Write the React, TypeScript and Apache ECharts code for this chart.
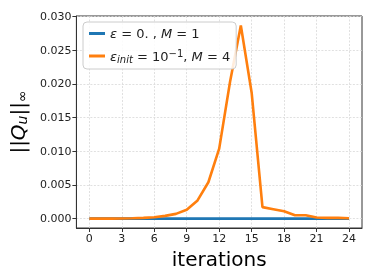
import React, { useEffect, useRef } from "react";
import * as echarts from "echarts";

const iterations = Array.from({ length: 25 }, (_, i) => i);
const seriesBlue = [0, 0, 0, 0, 0, 0, 0, 0, 0, 0, 0, 0, 0, 0, 0, 0, 0, 0, 0, 0, 0, 0, 0, 0, 0];
const seriesOrange = [
  0, 0, 0, 0.00002, 0.00005, 0.0001, 0.0002, 0.0004, 0.0007, 0.0013, 0.0027, 0.0054, 0.0104,
  0.0203, 0.0287, 0.0187, 0.0017, 0.0014, 0.0011, 0.0005, 0.0005, 0.00015, 0.0001, 0.0001, 0.00005,
];
const xTicks = [0, 3, 6, 9, 12, 15, 18, 21, 24];
const yTicks = [0, 0.005, 0.01, 0.015, 0.02, 0.025, 0.03];

const FONT = "DejaVu Sans";

export default function App() {
  const ref = useRef<HTMLDivElement>(null);
  useEffect(() => {
    if (!ref.current) return;
    const chart = echarts.init(ref.current, null, { renderer: "svg" });
    const gridLine = { show: true, lineStyle: { color: "#d8d8d8", width: 0.8, type: [2, 1.5] as any } };
    chart.setOption({
      animation: false,
      textStyle: { fontFamily: FONT },
      grid: { left: 76, right: 12, top: 16, bottom: 52, show: true, borderColor: "#333", borderWidth: 1, containLabel: false },
      legend: {
        left: 83,
        top: 22,
        orient: "vertical",
        itemWidth: 16,
        itemHeight: 3,
        itemGap: 8,
        icon: "rect",
        backgroundColor: "rgba(255,255,255,0.85)",
        borderColor: "#cccccc",
        borderWidth: 1,
        borderRadius: 4,
        padding: [5, 6, 5, 6],
        data: ["s1", "s2"],
        formatter: (name: string) =>
          name === "s1"
            ? "{i|ε} = 0. , {i|M} = 1"
            : "{i|ε}{sub|init} = 10{sup|−1}, {i|M} = 4",
        textStyle: {
          fontFamily: FONT,
          fontSize: 13,
          color: "#222",
          rich: {
            i: { fontFamily: FONT, fontSize: 13, fontStyle: "italic", color: "#222" },
            sub: { fontFamily: FONT, fontSize: 10, fontStyle: "italic", color: "#222", verticalAlign: "bottom", padding: [6, 0, 0, 0] },
            sup: { fontFamily: FONT, fontSize: 10, color: "#222", verticalAlign: "top", padding: [0, 0, 6, 0] },
          },
        },
      },
      xAxis: {
        type: "value",
        min: -1.2,
        max: 25.2,
        name: "iterations",
        nameLocation: "middle",
        nameGap: 19,
        nameTextStyle: { fontFamily: FONT, fontSize: 20, color: "#000" },
        axisLine: { show: true, onZero: false, lineStyle: { color: "#333", width: 1 } },
        axisTick: { show: true, customValues: xTicks, length: 4, lineStyle: { color: "#333" } },
        axisLabel: { customValues: xTicks, fontFamily: FONT, fontSize: 11, color: "#222", margin: 5 },
        splitLine: gridLine,
      },
      yAxis: {
        type: "value",
        min: -0.0014,
        max: 0.0301,
        name: "{n|||}{q|Q}{s|u}{n|||}{t|∞}",
        nameLocation: "middle",
        nameGap: 38,
        nameRotate: 90,
        nameTextStyle: {
          fontFamily: FONT,
          fontSize: 20,
          color: "#000",
          rich: {
            n: { fontFamily: FONT, fontSize: 20, color: "#000" },
            q: { fontFamily: FONT, fontSize: 20, fontStyle: "italic", color: "#000" },
            s: { fontFamily: FONT, fontSize: 14, fontStyle: "italic", color: "#000", verticalAlign: "bottom", padding: [8, 0, 0, 0] },
            t: { fontFamily: FONT, fontSize: 14, color: "#000", verticalAlign: "bottom", padding: [8, 0, 0, 0] },
          },
        },
        axisLine: { show: true, onZero: false, lineStyle: { color: "#333", width: 1 } },
        axisTick: { show: true, customValues: yTicks, length: 4, lineStyle: { color: "#333" } },
        axisLabel: {
          customValues: yTicks,
          fontFamily: FONT,
          fontSize: 11,
          color: "#222",
          margin: 5,
          formatter: (v: number) => v.toFixed(3),
        },
        splitLine: gridLine,
      },
      series: [
        {
          name: "s1",
          type: "line",
          data: iterations.map((x, i) => [x, seriesBlue[i]]),
          symbol: "none",
          lineStyle: { color: "#1f77b4", width: 2.6 },
          itemStyle: { color: "#1f77b4" },
          z: 2,
        },
        {
          name: "s2",
          type: "line",
          data: iterations.map((x, i) => [x, seriesOrange[i]]),
          symbol: "none",
          lineStyle: { color: "#ff7f0e", width: 2.6 },
          itemStyle: { color: "#ff7f0e" },
          z: 3,
        },
      ],
    });
    return () => chart.dispose();
  }, []);
  return <div ref={ref} style={{ position: "fixed", left: 0, top: 0, width: 374, height: 280 }} />;
}
